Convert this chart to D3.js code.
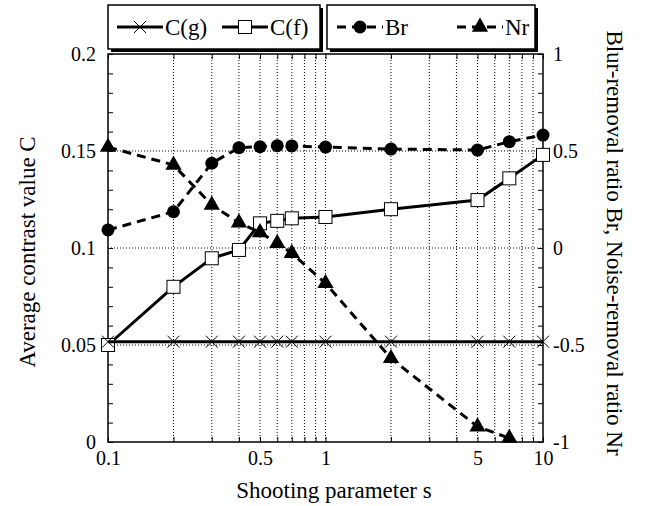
<!DOCTYPE html>
<html>
<head>
<meta charset="utf-8">
<script src="https://cdn.jsdelivr.net/npm/d3@7"></script>
<style>
    body { margin: 0; background: #fff; }
    text { font-family: "Liberation Serif", "Times New Roman", serif; fill: #000; }
</style>
</head>
<body>
<svg id="chart" width="648" height="506"></svg>
<script>

// Data

const shoot = [0.1, 0.2, 0.3, 0.4, 0.5, 0.6, 0.7, 1, 2, 5, 7, 10];
const cG = [0.0517, 0.0517, 0.0517, 0.0517, 0.0517, 0.0517, 0.0517, 0.0517, 0.0517, 0.0517, 0.0517, 0.0517];
const cF = [0.050, 0.080, 0.0947, 0.099, 0.1127, 0.114, 0.1153, 0.116, 0.120, 0.1247, 0.1359, 0.148];
const br = [0.093, 0.187, 0.437, 0.517, 0.522, 0.527, 0.526, 0.52, 0.51, 0.505, 0.548, 0.582];
const nr = [0.52, 0.428, 0.222, 0.13, 0.08, 0.024, -0.027, -0.182, -0.569, -0.921, -0.98];

const xLabels = [0.1, 0.5, 1, 5, 10];
const leftLabels = [0, 0.05, 0.1, 0.15, 0.2];
const rightLabels = [-1, -0.5, 0, 0.5, 1];

// Layout

const p = {
    left: 108,
    right: 543,
    top: 54,
    bottom: 442,
    line: 3,
    dash: "9,6",
    font: "Liberation Serif"
};

const svg = d3.select("#chart");

const x = d3.scaleLog().domain([0.1, 10]).range([p.left, p.right]);
const yL = d3.scaleLinear().domain([0, 0.2]).range([p.bottom, p.top]);
const yR = d3.scaleLinear().domain([-1, 1]).range([p.bottom, p.top]);

const logTicks = x.ticks();
const leftMinor = d3.range(0, 0.2001, 0.01);
const rightMinor = d3.range(-1, 1.001, 0.1);

// Grid

const grid = svg.append("g")
    .attr("stroke", "#000")
    .attr("stroke-width", 1)
    .attr("stroke-dasharray", "1,2");

grid.selectAll(".vg")
    .data(logTicks.filter(d => d > 0.1001 && d < 9.99))
    .join("line")
    .attr("x1", d => x(d)).attr("x2", d => x(d))
    .attr("y1", p.top).attr("y2", p.bottom);

grid.selectAll(".hg")
    .data([0.05, 0.1, 0.15])
    .join("line")
    .attr("x1", p.left).attr("x2", p.right)
    .attr("y1", d => yL(d)).attr("y2", d => yL(d));

// Axes

function plain(d) {
    return String(+d.toFixed(3));
}

const bottomAxis = svg.append("g")
    .attr("transform", `translate(0,${p.bottom})`)
    .call(d3.axisBottom(x).tickValues(logTicks).tickSizeInner(-5).tickSizeOuter(0)
        .tickFormat(d => xLabels.some(v => Math.abs(v - d) < 1e-9) ? plain(d) : ""));

svg.append("g")
    .attr("transform", `translate(0,${p.top})`)
    .call(d3.axisTop(x).tickValues(logTicks).tickSizeInner(-5).tickSizeOuter(0).tickFormat(""));

const leftAxis = svg.append("g")
    .attr("transform", `translate(${p.left},0)`)
    .call(d3.axisLeft(yL).tickValues(leftMinor).tickSizeInner(-5).tickSizeOuter(0)
        .tickFormat(d => leftLabels.some(v => Math.abs(v - d) < 1e-9) ? plain(d) : ""));

const rightAxis = svg.append("g")
    .attr("transform", `translate(${p.right},0)`)
    .call(d3.axisRight(yR).tickValues(rightMinor).tickSizeInner(-5).tickSizeOuter(0)
        .tickFormat(d => rightLabels.some(v => Math.abs(v - d) < 1e-9) ? plain(d) : ""));

svg.selectAll(".domain").remove();
svg.selectAll(".tick line").attr("stroke", "#000").attr("stroke-width", 1);
svg.selectAll(".tick text")
    .style("font-size", "20px")
    .attr("fill", "#000");

bottomAxis.selectAll(".tick text").attr("y", 9);
leftAxis.selectAll(".tick text").attr("x", -12);
rightAxis.selectAll(".tick text").attr("x", 10);

svg.append("rect")
    .attr("x", p.left).attr("y", p.top)
    .attr("width", p.right - p.left).attr("height", p.bottom - p.top)
    .attr("fill", "none")
    .attr("stroke", "#000")
    .attr("stroke-width", 1.5);

// Series

const lineL = d3.line().x(d => x(d[0])).y(d => yL(d[1]));
const lineR = d3.line().x(d => x(d[0])).y(d => yR(d[1]));

const cfPts = shoot.map((s, i) => [s, cF[i]]);
const cgPts = shoot.map((s, i) => [s, cG[i]]);
const brPts = shoot.map((s, i) => [s, br[i]]);
const nrPts = nr.map((v, i) => [shoot[i], v]);

const xMark = "M-6,-6L6,6M-6,6L6,-6";
const triangle = d3.symbol().type(d3.symbolTriangle).size(115)();

svg.append("path")
    .attr("d", lineL(cfPts))
    .attr("fill", "none").attr("stroke", "#000").attr("stroke-width", p.line);

svg.selectAll(".cf")
    .data(cfPts)
    .join("rect")
    .attr("x", d => x(d[0]) - 6.5).attr("y", d => yL(d[1]) - 6.5)
    .attr("width", 13).attr("height", 13)
    .attr("fill", "#fff").attr("stroke", "#000").attr("stroke-width", 1);

svg.append("path")
    .attr("d", lineL(cgPts))
    .attr("fill", "none").attr("stroke", "#000").attr("stroke-width", p.line);

svg.selectAll(".cg")
    .data(cgPts)
    .join("path")
    .attr("transform", d => `translate(${x(d[0])},${yL(d[1])})`)
    .attr("d", xMark)
    .attr("fill", "none").attr("stroke", "#000").attr("stroke-width", 1);

svg.append("path")
    .attr("d", lineR(brPts))
    .attr("fill", "none").attr("stroke", "#000")
    .attr("stroke-width", p.line).attr("stroke-dasharray", p.dash);

svg.selectAll(".br")
    .data(brPts)
    .join("circle")
    .attr("cx", d => x(d[0])).attr("cy", d => yR(d[1]))
    .attr("r", 6.5)
    .attr("fill", "#000");

svg.append("path")
    .attr("d", lineR(nrPts))
    .attr("fill", "none").attr("stroke", "#000")
    .attr("stroke-width", p.line).attr("stroke-dasharray", p.dash);

svg.selectAll(".nr")
    .data(nrPts)
    .join("path")
    .attr("transform", d => `translate(${x(d[0])},${yR(d[1])})`)
    .attr("d", triangle)
    .attr("fill", "#000");

// Axis titles

svg.append("text")
    .attr("transform", `translate(27,${(p.top + p.bottom) / 2 + 4}) rotate(-90)`)
    .attr("text-anchor", "middle")
    .attr("dominant-baseline", "central")
    .style("font-size", "23px")
    .text("Average contrast value C");

svg.append("text")
    .attr("transform", `translate(614,${(p.top + p.bottom) / 2 - 5}) rotate(90)`)
    .attr("text-anchor", "middle")
    .attr("dominant-baseline", "central")
    .style("font-size", "23px")
    .text("Blur-removal ratio Br, Noise-removal ratio Nr");

svg.append("text")
    .attr("x", 334).attr("y", 498)
    .attr("text-anchor", "middle")
    .style("font-size", "23px")
    .text("Shooting parameter s");

// Legend

const boxes = [
    { x: 108, w: 212 },
    { x: 327, w: 208 }
];

boxes.forEach(b => {
    svg.append("rect")
        .attr("x", b.x + 3).attr("y", 8)
        .attr("width", b.w).attr("height", 44)
        .attr("fill", "#000");
    svg.append("rect")
        .attr("x", b.x).attr("y", 5)
        .attr("width", b.w).attr("height", 44)
        .attr("fill", "#fff")
        .attr("stroke", "#000").attr("stroke-width", 1.5);
});

const legendY = 27;

function legendItem(x0, label, dashed, mark) {
    const g = svg.append("g");
    g.append("line")
        .attr("x1", x0).attr("x2", x0 + 46)
        .attr("y1", legendY).attr("y2", legendY)
        .attr("stroke", "#000").attr("stroke-width", p.line)
        .attr("stroke-dasharray", dashed ? p.dash : null);
    const cx = x0 + 23;
    if (mark === "x") {
        g.append("path").attr("transform", `translate(${cx},${legendY})`)
            .attr("d", xMark).attr("fill", "none").attr("stroke", "#000");
    } else if (mark === "square") {
        g.append("rect").attr("x", cx - 6.5).attr("y", legendY - 6.5)
            .attr("width", 13).attr("height", 13)
            .attr("fill", "#fff").attr("stroke", "#000");
    } else if (mark === "circle") {
        g.append("circle").attr("cx", cx).attr("cy", legendY).attr("r", 6.5).attr("fill", "#000");
    } else {
        g.append("path").attr("transform", `translate(${cx},${legendY})`)
            .attr("d", triangle).attr("fill", "#000");
    }
    g.append("text")
        .attr("x", x0 + 48).attr("y", legendY)
        .attr("dominant-baseline", "central")
        .style("font-size", "23px")
        .text(label);
}

legendItem(117, "C(g)", false, "x");
legendItem(222, "C(f)", false, "square");
legendItem(337, "Br", true, "circle");
legendItem(457, "Nr", true, "triangle");

// one serif face for every label
svg.selectAll("text")
    .attr("font-family", p.font)
    .style("font-family", p.font);

</script>
</body>
</html>
